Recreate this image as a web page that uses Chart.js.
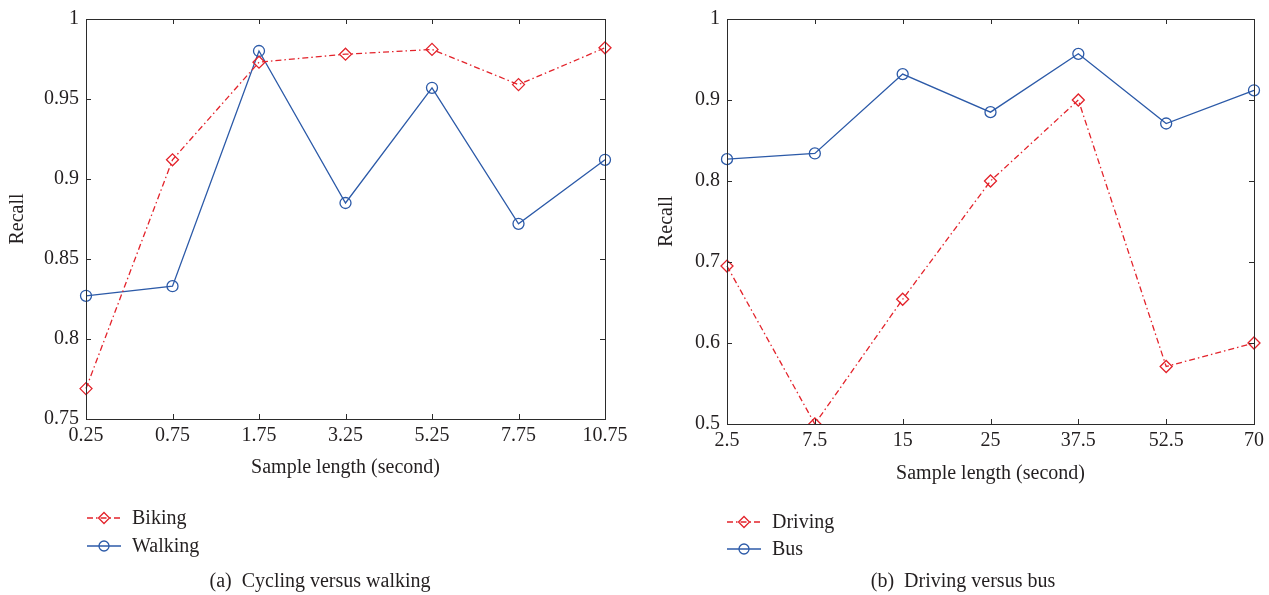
<!DOCTYPE html>
<html>
<head>
<meta charset="utf-8">
<script src="https://cdn.jsdelivr.net/npm/chart.js@4"></script>
<style>
  html, body { margin: 0; padding: 0; background: #fff; width: 1269px; height: 595px; overflow: hidden; }
  .panel { position: absolute; top: 0; height: 595px; }
  #panelA { left: 0; width: 640px; }
  #panelB { left: 640px; width: 629px; }
</style>
</head>
<body>
<div class="panel" id="panelA"><canvas id="chartA"></canvas></div>
<div class="panel" id="panelB"><canvas id="chartB"></canvas></div>
<script>
// (a) cycling vs walking
const lengthsA = ["0.25", "0.75", "1.75", "3.25", "5.25", "7.75", "10.75"];
const biking = [0.769, 0.912, 0.973, 0.978, 0.981, 0.959, 0.982];
const walking = [0.827, 0.833, 0.980, 0.885, 0.957, 0.872, 0.912];
const recallTicksA = [0.75, 0.8, 0.85, 0.9, 0.95, 1];

// (b) driving vs bus
const lengthsB = ["2.5", "7.5", "15", "25", "37.5", "52.5", "70"];
const driving = [0.695, 0.5, 0.654, 0.8, 0.9, 0.571, 0.6];
const bus = [0.827, 0.834, 0.932, 0.885, 0.957, 0.871, 0.912];
const recallTicksB = [0.5, 0.6, 0.7, 0.8, 0.9, 1];

const RED = "#e3232b";
const BLUE = "#2c5aa8";
const INK = "#231f20";
const FONT = "'Liberation Serif', 'DejaVu Serif', serif";

Chart.defaults.font.family = FONT;
Chart.defaults.font.size = 20;
Chart.defaults.color = INK;

// box with inward ticks, legend and caption (matlab look)
const panelPlugin = {
  id: "panel",
  afterDraw(chart, args, opts) {
    const { ctx, chartArea: a, scales } = chart;
    ctx.save();
    ctx.strokeStyle = "#2b2b2b";
    ctx.lineWidth = 1;
    ctx.strokeRect(a.left + 0.5, a.top + 0.5, a.right - a.left, a.bottom - a.top);
    const len = 5;
    ctx.beginPath();
    scales.x.ticks.forEach((t, i) => {
      const px = Math.round(scales.x.getPixelForTick(i)) + 0.5;
      ctx.moveTo(px, a.bottom); ctx.lineTo(px, a.bottom - len);
      ctx.moveTo(px, a.top); ctx.lineTo(px, a.top + len);
    });
    scales.y.ticks.forEach((t, i) => {
      const py = Math.round(scales.y.getPixelForTick(i)) + 0.5;
      ctx.moveTo(a.left, py); ctx.lineTo(a.left + len, py);
      ctx.moveTo(a.right, py); ctx.lineTo(a.right - len, py);
    });
    ctx.stroke();

    // legend
    chart.data.datasets.forEach((ds, i) => {
      const y = opts.legendY[i];
      ctx.strokeStyle = ds.borderColor;
      ctx.lineWidth = ds.borderWidth;
      ctx.setLineDash(ds.borderDash || []);
      ctx.beginPath();
      ctx.moveTo(opts.legendX, y);
      ctx.lineTo(opts.legendX + 34, y);
      ctx.stroke();
      ctx.setLineDash([]);
      ctx.fillStyle = "rgba(0,0,0,0)";
      Chart.helpers.drawPoint(ctx, {
        pointStyle: ds.pointStyle, radius: ds.pointRadius - 0.5, borderWidth: ds.pointBorderWidth, rotation: 0
      }, opts.legendX + 17, y);
      ctx.fillStyle = INK;
      ctx.font = "20px " + FONT;
      ctx.textBaseline = "alphabetic";
      ctx.textAlign = "left";
      ctx.fillText(ds.label, opts.legendX + 45, y + 6);
    });

    // caption
    ctx.fillStyle = INK;
    ctx.font = "20px " + FONT;
    ctx.textAlign = "center";
    ctx.fillText(opts.caption, opts.captionX, 587);
    ctx.restore();
  }
};

function makeChart(id, labels, series, names, ticks, min, max, geom) {
  const styles = [
    { color: RED, dash: [6, 3, 1.5, 3], point: "rectRot", r: 6 },
    { color: BLUE, dash: [], point: "circle", r: 5.5 }
  ];
  return new Chart(document.getElementById(id), {
    type: "line",
    data: {
      labels: labels,
      datasets: series.map((data, i) => ({
        label: names[i],
        data: data,
        borderColor: styles[i].color,
        borderWidth: 1.3,
        borderDash: styles[i].dash,
        pointStyle: styles[i].point,
        pointRadius: styles[i].r,
        pointBorderWidth: 1.3,
        pointBorderColor: styles[i].color,
        pointBackgroundColor: "rgba(0,0,0,0)",
        tension: 0,
        fill: false
      }))
    },
    options: {
      responsive: true,
      maintainAspectRatio: false,
      animation: false,
      events: [],
      layout: { padding: geom.padding },
      plugins: {
        legend: { display: false },
        tooltip: { enabled: false },
        panel: geom.panel
      },
      scales: {
        x: {
          type: "category",
          offset: false,
          grid: { display: false, drawTicks: false },
          border: { display: false },
          ticks: { autoSkip: false, maxRotation: 0, padding: 5 },
          title: { display: true, text: "Sample length (second)", padding: 0 },
          afterFit: s => { s.height = geom.xHeight; }
        },
        y: {
          min: min,
          max: max,
          grid: { display: false, drawTicks: false },
          border: { display: false },
          ticks: { padding: 7, callback: v => String(v) },
          afterBuildTicks: s => { s.ticks = ticks.map(v => ({ value: v })); },
          title: { display: true, text: "Recall", padding: { top: geom.yTitlePad, bottom: 0 } },
          afterFit: s => { s.width = geom.yWidth; }
        }
      }
    },
    plugins: [panelPlugin]
  });
}

makeChart("chartA", lengthsA, [biking, walking], ["Biking", "Walking"], recallTicksA, 0.75, 1, {
  padding: { left: 0, top: 14, right: 35, bottom: 115 },
  xHeight: 61, yWidth: 86, yTitlePad: 6,
  panel: { legendX: 87, legendY: [518, 546], caption: "(a)  Cycling versus walking", captionX: 320 }
});

makeChart("chartB", lengthsB, [driving, bus], ["Driving", "Bus"], recallTicksB, 0.5, 1, {
  padding: { left: 0, top: 19, right: 13, bottom: 109 },
  xHeight: 62, yWidth: 87, yTitlePad: 15,
  panel: { legendX: 87, legendY: [522, 549], caption: "(b)  Driving versus bus", captionX: 323 }
});
</script>
</body>
</html>
